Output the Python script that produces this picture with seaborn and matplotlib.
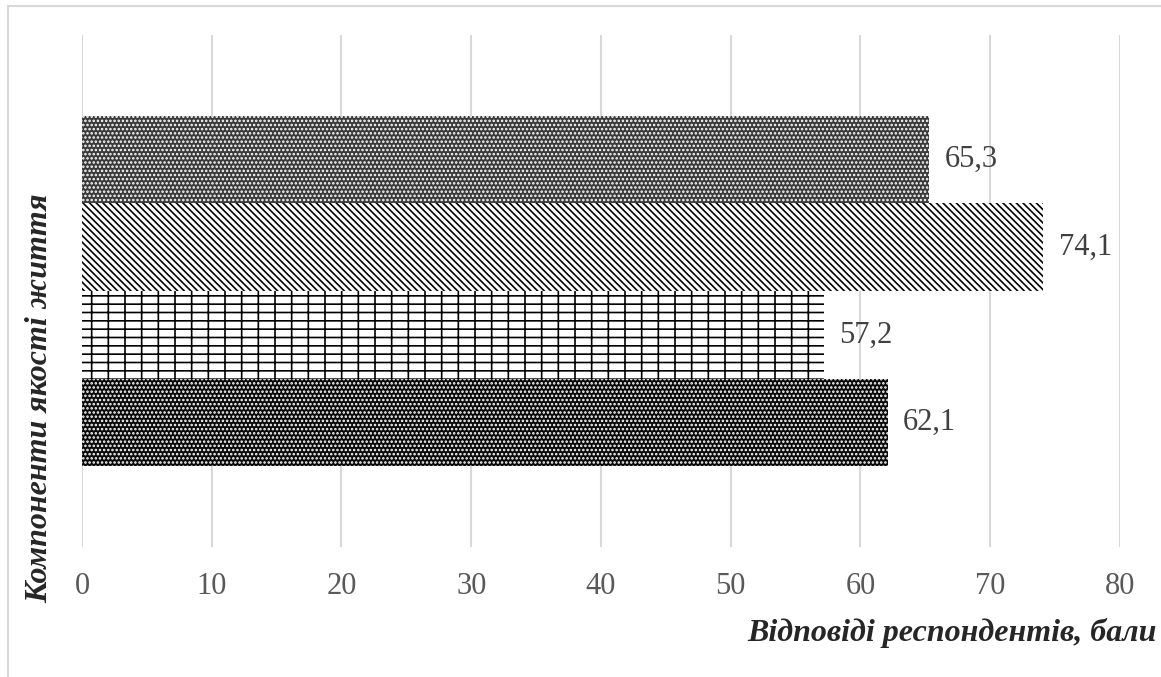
"""
Компоненти якості життя: відповіді респондентів (горизонтальні стовпці зі штрихуванням).

    python plot.py
"""

import matplotlib
matplotlib.use("Agg")

import matplotlib.pyplot as plt
import pandas as pd
import seaborn as sns
from matplotlib.lines import Line2D

# --- дані ---------------------------------------------------------------
компоненти = ["Компонент 1", "Компонент 2", "Компонент 3", "Компонент 4"]
бали = [65.3, 74.1, 57.2, 62.1]
поділки_x = [0, 10, 20, 30, 40, 50, 60, 70, 80]

BS = chr(92)  # зворотна коса риска, щоб не плутатись з екрануванням

# штрихування у стилі Excel: (заливка, колір штриха, штрих)
стилі = [
    ("#3a3a3a", "white", "...."),
    ("white", "black", BS * 5),
    ("white", "black", "--|"),
    ("#0a0a0a", "white", "...."),
]

df = pd.DataFrame({"компонент": компоненти, "бал": бали})

sns.set_theme(style="white")
plt.rcParams["font.family"] = ["Liberation Serif", "DejaVu Serif"]
plt.rcParams["hatch.linewidth"] = 1.2

fig = plt.figure(figsize=(11.61, 6.77), dpi=100)
ax = fig.add_axes([0.0706, 0.192, 0.894, 0.756])

sns.barplot(data=df, x="бал", y="компонент", orient="h", width=1.0,
            color="white", ax=ax)

for bar, (fc, hc, hatch) in zip(ax.patches, стилі):
    bar.set_facecolor(fc)
    bar.set_edgecolor(hc)
    bar.set_hatch(hatch)
    bar.set_linewidth(0)

ax.bar_label(ax.containers[0],
             labels=[f"{v:.1f}".replace(".", ",") for v in бали],
             padding=11, fontsize=22, color="#404040")

ax.set_xlim(0, 80)
ax.set_ylim(4.42, -1.42)
ax.set_xticks(поділки_x)
ax.set_yticks([])
ax.tick_params(axis="x", length=0, pad=18, labelsize=22, labelcolor="#595959")
ax.grid(axis="x", color="#d9d9d9", linewidth=1.5)
ax.set_axisbelow(True)
sns.despine(ax=ax, left=True, bottom=True)

ax.set_xlabel("Відповіді респондентів, бали", fontsize=23,
              fontweight="bold", fontstyle="italic", ha="right", va="center")
ax.xaxis.set_label_coords(1.0356, -0.168)
ax.set_ylabel("Компоненти якості життя", fontsize=23,
              fontweight="bold", fontstyle="italic", ha="center", va="center")
ax.yaxis.set_label_coords(-0.0405, 0.29)

# рамка діаграми (видно лише ліву та верхню сторони)
x0, y0 = 8 / 1161, 1 - 6 / 677
fig.add_artist(Line2D([x0, x0], [0, y0], color="#d9d9d9", linewidth=1.5))
fig.add_artist(Line2D([x0, 1], [y0, y0], color="#d9d9d9", linewidth=1.5))

fig.savefig("out.png", dpi=100)
plt.close(fig)
